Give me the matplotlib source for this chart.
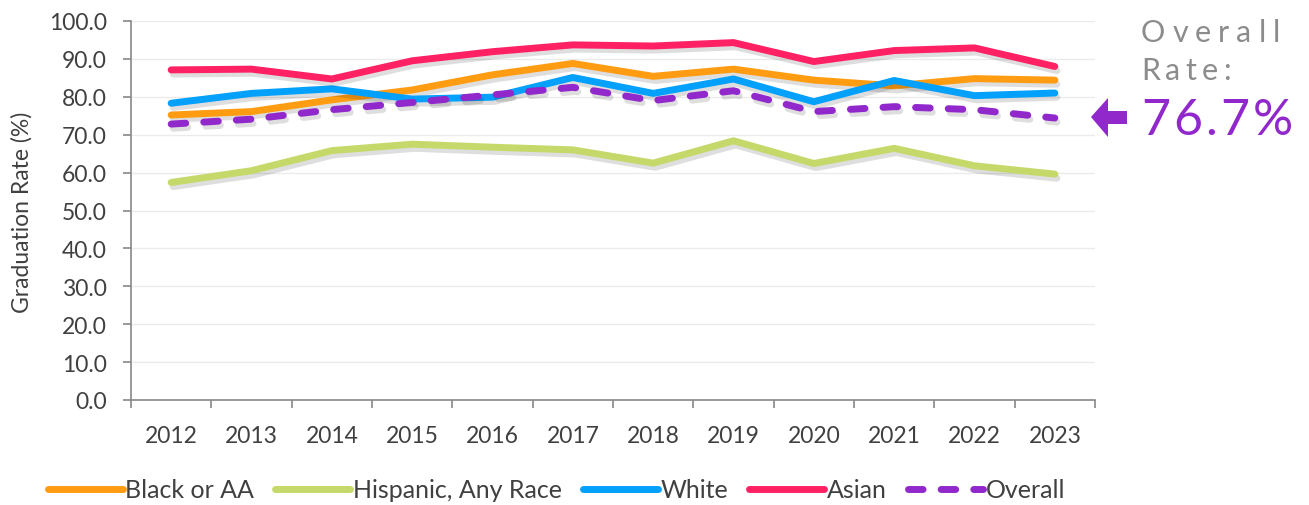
import numpy as np
import matplotlib
matplotlib.use("Agg")
import matplotlib.pyplot as plt
import matplotlib.patheffects as pe
from matplotlib.patches import Polygon

# graduation rates
years = ["2012", "2013", "2014", "2015", "2016", "2017",
         "2018", "2019", "2020", "2021", "2022", "2023"]
black = [75.2, 76.1, 79.2, 81.8, 85.8, 88.8, 85.4, 87.3, 84.4, 82.9, 84.8, 84.4]
hispanic = [57.4, 60.5, 65.8, 67.5, 66.7, 66.0, 62.5, 68.4, 62.4, 66.4, 61.8, 59.6]
white = [78.3, 80.9, 82.1, 79.4, 79.9, 85.1, 80.9, 84.7, 78.7, 84.3, 80.3, 81.0]
asian = [87.1, 87.3, 84.7, 89.5, 91.9, 93.7, 93.4, 94.3, 89.3, 92.2, 92.9, 88.0]
overall = [72.8, 74.1, 76.6, 78.5, 80.5, 82.5, 79.0, 81.6, 76.1, 77.4, 76.6, 74.4]
overall_rate = "76.7%"

FONT = "Lato"
TXT = "#404040"
W, H = 1309, 506

fig = plt.figure(figsize=(W / 100, H / 100), dpi=100)
ax = fig.add_axes([131 / W, 1 - 401 / H, 964 / W, 379 / H])

x = np.arange(len(years))
shadow = [pe.SimpleLineShadow(offset=(1.5, -3), shadow_color="k", alpha=0.13), pe.Normal()]
series = [
    (black, "#FF9C12", "Black or AA"),
    (hispanic, "#C5D96A", "Hispanic, Any Race"),
    (white, "#03A0FC", "White"),
    (asian, "#FF2164", "Asian"),
]
for vals, col, lab in series:
    ax.plot(x, vals, color=col, lw=5, label=lab, solid_capstyle="round",
            solid_joinstyle="round", path_effects=shadow)
ax.plot(x, overall, color="#9128CB", lw=5, label="Overall", dashes=(2.1, 2.6),
        dash_capstyle="round", path_effects=shadow)

ax.set_ylim(0, 100)
ax.set_yticks(np.arange(0, 101, 10))
ax.set_yticklabels(["%.1f" % v for v in np.arange(0, 101, 10)])
ax.set_xlim(-0.5, len(years) - 0.5)
ax.set_xticks(np.arange(-0.5, len(years), 1))
ax.set_xticklabels([])
ax.set_xticks(x, minor=True)
ax.set_xticklabels(years, minor=True)
ax.tick_params(axis="x", which="major", length=5.5, color="#888888", width=1.2)
ax.tick_params(axis="x", which="minor", length=0, pad=18)
ax.tick_params(axis="y", length=5.5, color="#888888", width=1.2, pad=12)
for lbl in ax.get_xticklabels(minor=True) + ax.get_yticklabels():
    lbl.set_fontfamily(FONT)
    lbl.set_fontsize(16.5)
    lbl.set_color(TXT)

ax.grid(axis="y", color="#ebebeb", lw=1)
ax.set_axisbelow(True)
for s in ["top", "right"]:
    ax.spines[s].set_visible(False)
for s in ["left", "bottom"]:
    ax.spines[s].set_color("#888888")
    ax.spines[s].set_linewidth(1.2)

fig.text(22 / W, 1 - 212 / H, "Graduation Rate (%)", rotation=90, ha="center", va="center",
         fontsize=16.5, fontfamily=FONT, color=TXT)

leg = fig.legend(loc="center left", bbox_to_anchor=(25 / W, 1 - 491 / H), ncol=5, frameon=False,
                 handlelength=3.0, handletextpad=0.1, columnspacing=0.85,
                 prop={"family": FONT, "size": 18})
for t in leg.get_texts():
    t.set_color(TXT)
for h in leg.legend_handles:
    h.set_path_effects([])

# annotation on the right
renderer = fig.canvas.get_renderer()


def spaced_text(x0, base, s, size, color, width):
    arts, ws = [], []
    for ch in s:
        t = fig.text(0, 0, ch, fontsize=size, color=color, fontfamily=FONT,
                     va="baseline", ha="left")
        arts.append(t)
        ws.append(t.get_window_extent(renderer).width)
    track = (width - sum(ws)) / (len(s) - 1)
    xx = x0
    for t, w in zip(arts, ws):
        t.set_position((xx / W, 1 - base / H))
        xx += w + track


spaced_text(1141, 42, "Overall", 22, "#8c8c8c", 139)
spaced_text(1141, 80, "Rate:", 22, "#8c8c8c", 90)
spaced_text(1141, 135, overall_rate, 36, "#9128CB", 152)

arrow_px = [(1091, 118), (1108, 99), (1108, 112), (1127, 112),
            (1127, 125), (1108, 125), (1108, 138)]
fig.add_artist(Polygon([(px / W, 1 - py / H) for px, py in arrow_px], closed=True,
                       transform=fig.transFigure, facecolor="#9128CB", edgecolor="none"))

fig.savefig("out.png", dpi=100)
